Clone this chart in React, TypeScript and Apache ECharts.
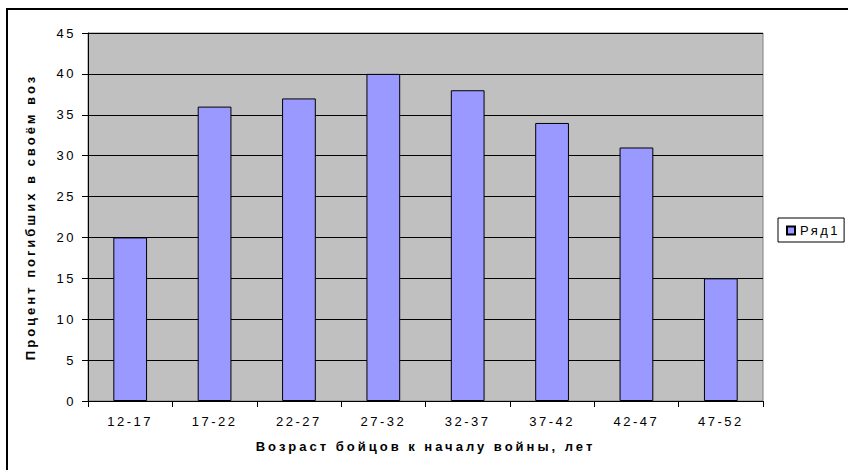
import React, { useEffect, useRef } from 'react';
import * as echarts from 'echarts';

const categories = ['12-17', '17-22', '22-27', '27-32', '32-37', '37-42', '42-47', '47-52'];
const values = [20, 36, 37, 40, 38, 34, 31, 15];
const seriesName = 'Ряд1';
const xTitle = 'Возраст бойцов к началу войны, лет';
const yTitle = 'Процент погибших в своём воз';
const yMin = 0;
const yMax = 45;
const yStep = 5;

const FONT = '"Liberation Sans", Arial, sans-serif';

const css = `
.ec text { letter-spacing: 2.5px; }
.ec text[style*="bold"], .ec text[font-weight="bold"] { letter-spacing: 3px; }
`;

export default function App() {
  const ref = useRef<HTMLDivElement>(null);
  useEffect(() => {
    const chart = echarts.init(ref.current as HTMLDivElement, null, { renderer: 'svg' });
    chart.setOption({
      animation: false,
      backgroundColor: '#ffffff',
      textStyle: { fontFamily: FONT, color: '#000' },
      grid: {
        left: 88,
        top: 33,
        right: 85,
        bottom: 69,
        show: true,
        backgroundColor: '#C0C0C0',
        borderColor: '#808080',
        borderWidth: 1,
      },
      xAxis: {
        type: 'category',
        data: categories,
        boundaryGap: true,
        axisLine: { show: true, lineStyle: { color: '#000', width: 1 } },
        axisTick: { show: true, length: 6, alignWithLabel: false, lineStyle: { color: '#000' } },
        axisLabel: { fontSize: 13, color: '#000', margin: 14, interval: 0, fontFamily: FONT },
        splitLine: { show: false },
        name: xTitle,
        nameLocation: 'middle',
        nameGap: 39,
        nameTextStyle: { fontSize: 13, fontWeight: 'bold', color: '#000', fontFamily: FONT },
      },
      yAxis: {
        type: 'value',
        min: yMin,
        max: yMax,
        interval: yStep,
        axisLine: { show: true, lineStyle: { color: '#000', width: 1 } },
        axisTick: { show: true, length: 6, lineStyle: { color: '#000' } },
        axisLabel: { fontSize: 13, color: '#000', margin: 12, fontFamily: FONT },
        splitLine: { show: true, lineStyle: { color: '#000', width: 1 } },
        name: yTitle,
        nameLocation: 'middle',
        nameRotate: 90,
        nameGap: 51,
        nameTextStyle: { fontSize: 13, fontWeight: 'bold', color: '#000', fontFamily: FONT },
      },
      legend: {
        show: true,
        left: 778,
        top: 218,
        orient: 'vertical',
        padding: [6, 14, 5, 8],
        borderColor: '#000',
        borderWidth: 1,
        backgroundColor: '#fff',
        itemWidth: 8,
        itemHeight: 8,
        icon: 'rect',
        textStyle: { fontSize: 13, color: '#000', fontFamily: FONT },
      },
      series: [
        {
          type: 'bar',
          name: seriesName,
          data: values,
          barWidth: '40%',
          itemStyle: { color: '#9999FF', borderColor: '#000', borderWidth: 1 },
        },
      ],
      graphic: [
        {
          type: 'polyline',
          silent: true,
          shape: { points: [[7, 470], [7, 9], [848, 9]] },
          style: { stroke: '#000', lineWidth: 2, fill: 'none' },
        },
      ],
    });
    return () => chart.dispose();
  }, []);
  return (
    <>
      <style>{css}</style>
      <div
        ref={ref}
        className="ec"
        style={{ position: 'absolute', left: 0, top: 0, width: 848, height: 470, background: '#fff' }}
      />
    </>
  );
}
